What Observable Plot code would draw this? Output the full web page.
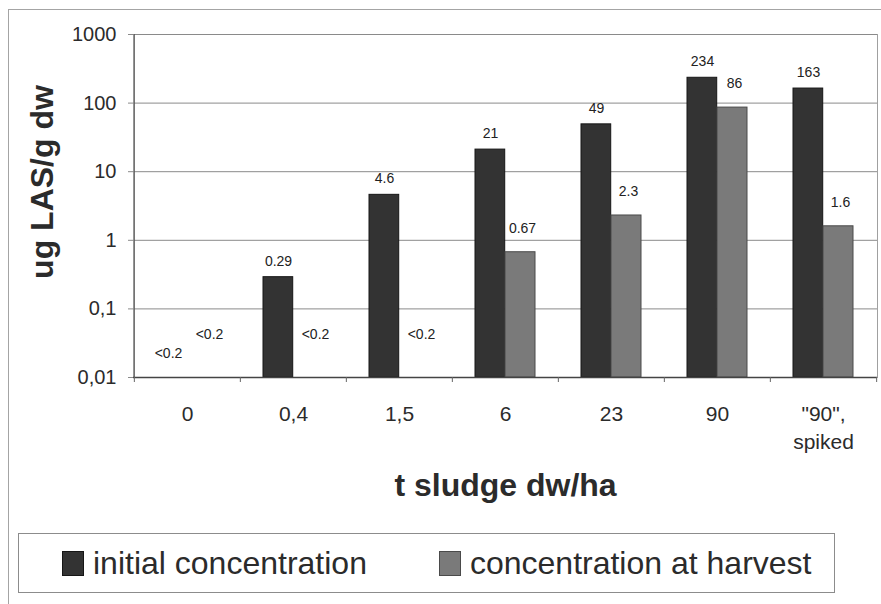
<!DOCTYPE html>
<html>
<head>
<meta charset="utf-8">
<script src="https://cdn.jsdelivr.net/npm/d3@7"></script>
<script src="https://cdn.jsdelivr.net/npm/@observablehq/plot@0.6"></script>
<style>
  body { margin: 0; background: #fff; font-family: "Liberation Sans", Arial, sans-serif; color: #2b2b2b; }
  #page { position: relative; width: 881px; height: 604px; overflow: hidden; }
  #border { position: absolute; left: 8px; top: 9px; width: 900px; height: 620px; border: 1px solid #a4a4a4; }
  #chart { position: absolute; left: 0; top: 0; }
  .legend { box-sizing: border-box; margin: 8px 0 0 18px; width: 817px; height: 60px;
            border: 1px solid #8c8c8c; display: flex; align-items: center; padding-left: 43px;
            font-size: 32px; color: #2b2b2b; background: #fff; }
  .legend .item { display: flex; align-items: center; }
  .legend .item + .item { margin-left: 72px; }
  .legend .swatch { display: inline-block; width: 22px; height: 25px; margin-right: 9px; box-sizing: border-box; }
</style>
</head>
<body>
<div id="page">
  <div id="border"></div>
  <div id="chart"></div>
</div>
<script>
// Sludge application rates (t dw/ha) and measured LAS in soil (ug/g dw)
const doses = ["0", "0,4", "1,5", "6", "23", "90", "\"90\",\nspiked"];
const initialConc = [null, 0.29, 4.6, 21, 49, 234, 163];
const harvestConc = [null, null, null, 0.67, 2.3, 86, 1.6];
const belowLimit = "<0.2";
const seriesNames = ["initial concentration", "concentration at harvest"];
const seriesColors = ["#333333", "#7a7a7a"];
const seriesEdges = ["#161616", "#4a4a4a"];
const yTicks = [0.01, 0.1, 1, 10, 100, 1000];
const yTitle = "ug LAS/g dw";
const xTitle = "t sludge dw/ha";

const initialRows = doses.map((dose, i) => ({dose, value: initialConc[i]}));
const harvestRows = doses.map((dose, i) => ({dose, value: harvestConc[i]}));
const measured = rows => rows.filter(d => d.value != null);
const missing = rows => rows.filter(d => d.value == null);

const W = 881, H = 525;
const margin = {left: 133, right: 4, top: 34, bottom: 148};
const half = (W - margin.left - margin.right) / doses.length / 2;
const pxPerDecade = (H - margin.top - margin.bottom) / (yTicks.length - 1);
const tickBelow = yTicks[0] / 10 ** (5 / pxPerDecade);
const decimalComma = d => String(d).replace(".", ",");

const chart = Plot.plot({
  width: W,
  height: H,
  marginLeft: margin.left,
  marginRight: margin.right,
  marginTop: margin.top,
  marginBottom: margin.bottom,
  style: {fontFamily: "'Liberation Sans', Arial, sans-serif", fontSize: "20px", color: "#2b2b2b", background: "transparent"},
  x: {domain: doses, padding: 0},
  y: {type: "log", domain: [yTicks[0], yTicks[yTicks.length - 1]]},
  marks: [
    Plot.frame({stroke: "#a0a0a0"}),
    Plot.ruleY(yTicks, {stroke: "#8a8a8a"}),
    // bars: initial on the left half of each group, harvest on the right half
    Plot.barY(measured(initialRows), {x: "dose", y1: yTicks[0], y2: "value", fill: seriesColors[0],
      stroke: seriesEdges[0], strokeWidth: 1, insetLeft: 23, insetRight: half * 2 - 53}),
    Plot.barY(measured(harvestRows), {x: "dose", y1: yTicks[0], y2: "value", fill: seriesColors[1],
      stroke: seriesEdges[1], strokeWidth: 1, insetLeft: 53, insetRight: 23}),
    // axis lines
    Plot.ruleX([doses[0]], {x: d => d, dx: -half, stroke: "#5a5a5a"}),
    Plot.ruleY([yTicks[0]], {stroke: "#444", strokeWidth: 1.5}),
    // category boundary ticks below the axis
    Plot.ruleX(doses, {x: d => d, dx: -half, y1: yTicks[0], y2: tickBelow, stroke: "#666"}),
    Plot.ruleX([doses[doses.length - 1]], {x: d => d, dx: half, y1: yTicks[0], y2: tickBelow, stroke: "#666"}),
    Plot.axisY({ticks: yTicks, tickSize: 5, tickPadding: 12, tickFormat: decimalComma,
      stroke: "#8a8a8a", fill: "#2b2b2b", fontSize: 20, label: null}),
    Plot.axisX({tickSize: 0, tickPadding: 24, fontSize: 21, lineHeight: 1.33, fill: "#2b2b2b", label: null}),
    // value labels
    Plot.text(measured(initialRows), {x: "dose", y: "value", text: d => String(d.value),
      dx: -15, dy: -16, fontSize: 14, fill: "#222"}),
    Plot.text(measured(harvestRows), {x: "dose", y: "value", text: d => String(d.value),
      dx: 17, dy: -24, fontSize: 14, fill: "#222"}),
    Plot.text(missing(initialRows), {x: "dose", frameAnchor: "bottom", text: () => belowLimit,
      dx: -19, dy: -20, fontSize: 14, fill: "#222"}),
    Plot.text(missing(harvestRows), {x: "dose", frameAnchor: "bottom", text: () => belowLimit,
      dx: 22, dy: -39, fontSize: 14, fill: "#222"}),
    // axis titles
    Plot.text([yTitle], {frameAnchor: "left", textAnchor: "middle", rotate: -90, dx: -91, dy: -24,
      fontSize: 32, fontWeight: "bold", fill: "#2b2b2b"}),
    Plot.text([xTitle], {frameAnchor: "bottom", dy: 118, fontSize: 32, fontWeight: "bold", fill: "#2b2b2b"})
  ]
});

const host = document.getElementById("chart");
host.appendChild(chart);

const legend = document.createElement("div");
legend.className = "legend";
seriesNames.forEach((name, i) => {
  const item = document.createElement("span");
  item.className = "item";
  const sw = document.createElement("span");
  sw.className = "swatch";
  sw.style.background = seriesColors[i];
  sw.style.border = `1px solid ${seriesEdges[i]}`;
  const label = document.createElement("span");
  label.textContent = name;
  item.append(sw, label);
  legend.appendChild(item);
});
host.appendChild(legend);
</script>
</body>
</html>
